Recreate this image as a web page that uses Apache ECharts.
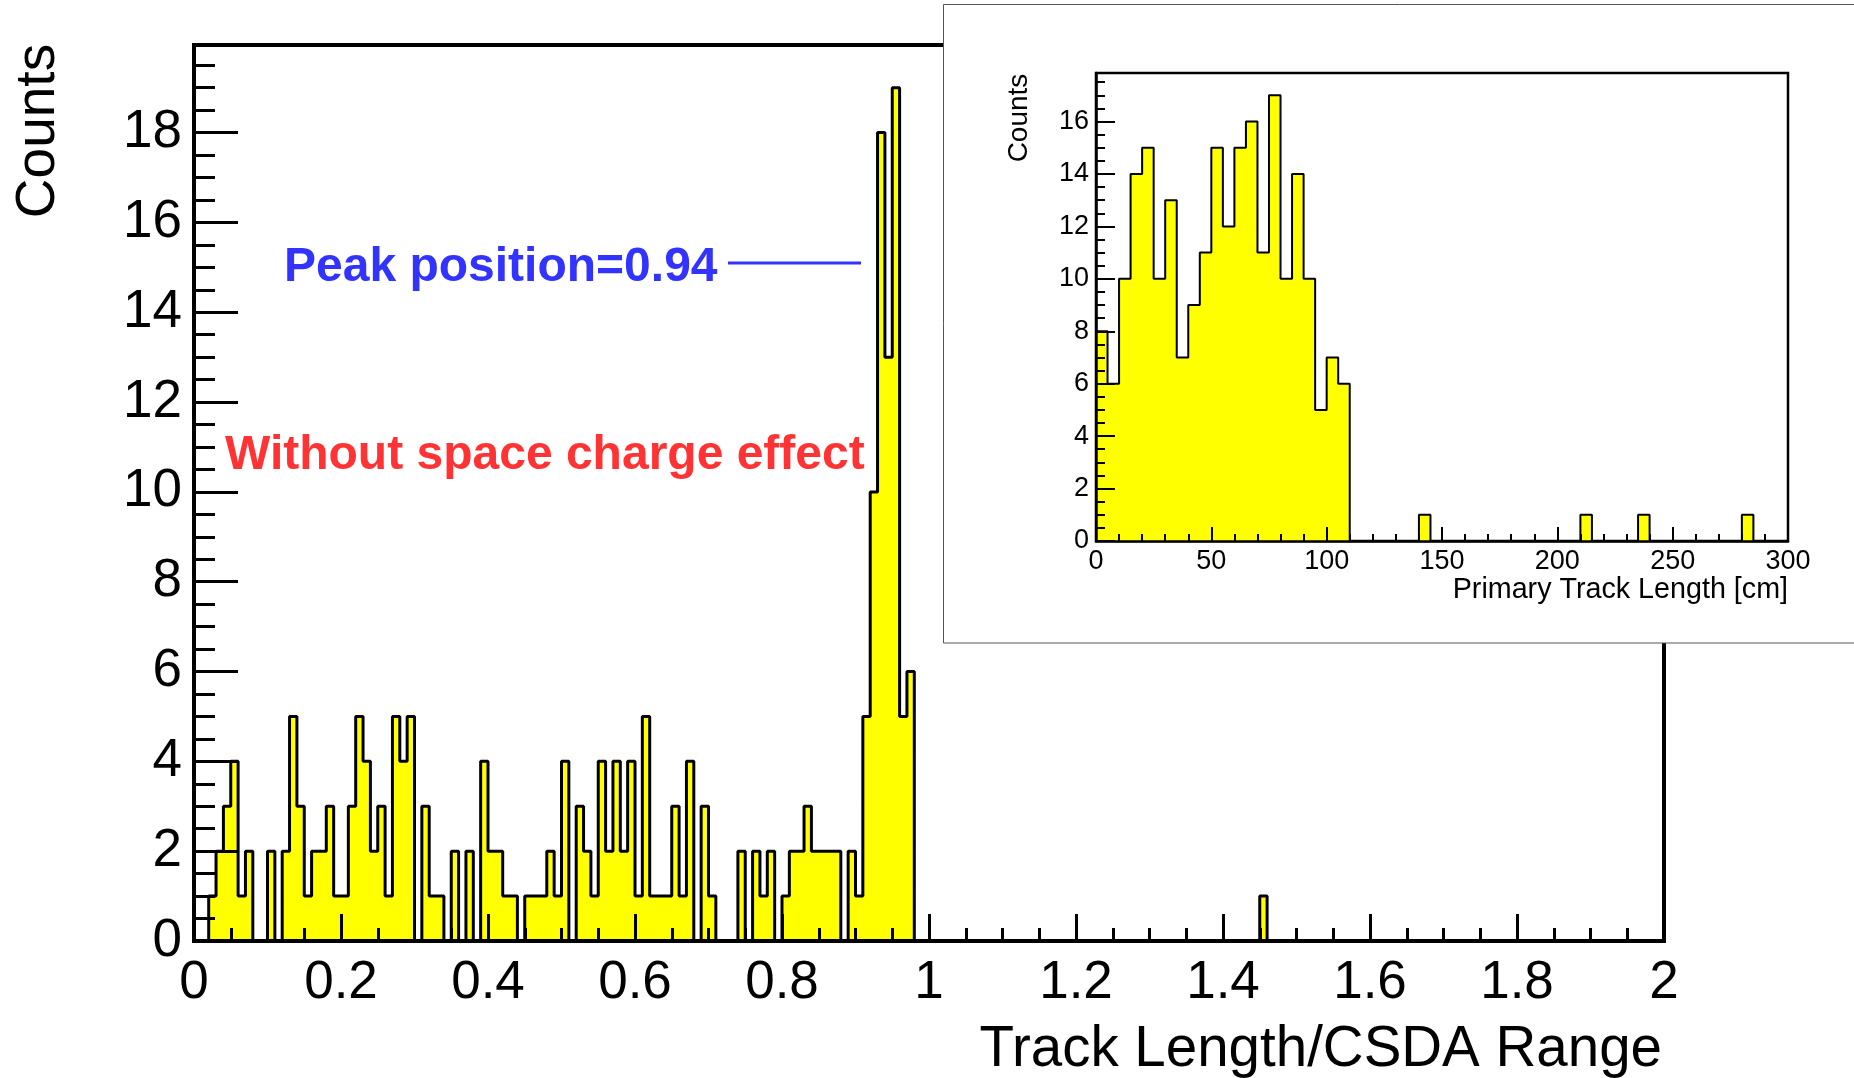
<!DOCTYPE html>
<html><head><meta charset="utf-8">
<script src="https://cdn.jsdelivr.net/npm/echarts@6/dist/echarts.min.js"></script>
<style>html,body{margin:0;padding:0;background:#fff}#c{width:1854px;height:1078px}</style>
</head><body><div id="c"></div>
<script>
// ---------- data ----------
// main histogram: Track Length / CSDA Range, 200 bins of 0.01 from 0 to 2
const mainCounts = [
  0,0,1,2,3,4,1,2,0,0,
  2,0,2,5,3,1,2,2,3,1,
  1,3,5,4,2,3,1,5,4,5,
  0,3,1,1,0,2,0,2,0,4,
  2,2,1,1,0,1,1,1,2,1,
  4,0,3,2,1,4,2,4,2,4,
  1,5,1,1,1,3,1,4,0,3,
  1,0,0,0,2,0,2,1,2,0,
  1,2,2,3,2,2,2,2,0,2,
  1,5,10,18,13,19,5,6,0,0,
  0,0,0,0,0,0,0,0,0,0,
  0,0,0,0,0,0,0,0,0,0,
  0,0,0,0,0,0,0,0,0,0,
  0,0,0,0,0,0,0,0,0,0,
  0,0,0,0,0,1,0,0,0,0,
  0,0,0,0,0,0,0,0,0,0,
  0,0,0,0,0,0,0,0,0,0,
  0,0,0,0,0,0,0,0,0,0,
  0,0,0,0,0,0,0,0,0,0,
  0,0,0,0,0,0,0,0,0,0
];
const mainBinLow = 0, mainBinWidth = 0.01;

// inset histogram: Primary Track Length [cm], 60 bins of 5 cm from 0 to 300
const insetCounts = [
  8,6,10,14,15,10,13,7,9,11,
  15,12,15,16,11,17,10,14,10,5,
  7,6,0,0,0,0,0,0,1,0,
  0,0,0,0,0,0,0,0,0,0,
  0,0,1,0,0,0,0,1,0,0,
  0,0,0,0,0,0,1,0,0,0
];
const insetBinLow = 0, insetBinWidth = 5;

const mainXTickLabels = ['0','0.2','0.4','0.6','0.8','1','1.2','1.4','1.6','1.8','2'];
const mainYTickLabels = ['0','2','4','6','8','10','12','14','16','18'];
const insetXTickLabels = ['0','50','100','150','200','250','300'];
const insetYTickLabels = ['0','2','4','6','8','10','12','14','16'];

// ---------- helpers ----------
function stepData(counts, lo, w) {
  const d = [[lo, 0]];
  counts.forEach((c, i) => d.push([lo + i * w, c]));
  d.push([lo + counts.length * w, 0]);
  return d;
}
function labelFrom(list, step) {
  return function (v) {
    const idx = Math.round(v / step);
    if (Math.abs(v - idx * step) > 1e-6) return '';
    return list[idx] !== undefined ? list[idx] : '';
  };
}
const FONT = '"Liberation Sans", Arial, Helvetica, sans-serif';

const chart = echarts.init(document.getElementById('c'), null, {renderer: 'canvas'});

const option = {
  animation: false,
  backgroundColor: '#fff',
  grid: [
    {left: 194, top: 45, width: 1470, height: 896, show: true, borderColor: '#000', borderWidth: 4, backgroundColor: 'transparent', z: 1},
    {left: 1096, top: 73, width: 692, height: 468, show: true, borderColor: '#000', borderWidth: 2.5, backgroundColor: '#fff', z: 11}
  ],
  xAxis: [
    {
      type: 'value', gridIndex: 0, min: 0, max: 2, interval: 0.2, z: 3,
      axisLine: {show: true, onZero: false, lineStyle: {color: '#000', width: 4}},
      axisTick: {show: true, inside: true, length: 27, lineStyle: {color: '#000', width: 3}},
      minorTick: {show: true, splitNumber: 4, length: 13, lineStyle: {color: '#000', width: 3}},
      splitLine: {show: false}, minorSplitLine: {show: false},
      axisLabel: {show: true, margin: 16, color: '#000', fontFamily: FONT, fontSize: 53, formatter: labelFrom(mainXTickLabels, 0.2)}
    },
    {
      type: 'value', gridIndex: 1, min: 0, max: 300, interval: 50, z: 13,
      axisLine: {show: true, onZero: false, lineStyle: {color: '#000', width: 2.5}},
      axisTick: {show: true, inside: true, length: 14, lineStyle: {color: '#000', width: 2}},
      minorTick: {show: true, splitNumber: 5, length: 7, lineStyle: {color: '#000', width: 2}},
      splitLine: {show: false}, minorSplitLine: {show: false},
      axisLabel: {show: true, margin: 7, color: '#000', fontFamily: FONT, fontSize: 27, formatter: labelFrom(insetXTickLabels, 50)}
    }
  ],
  yAxis: [
    {
      type: 'value', gridIndex: 0, min: 0, max: 19.95, interval: 2, z: 3,
      axisLine: {show: true, onZero: false, lineStyle: {color: '#000', width: 4}},
      axisTick: {show: true, inside: true, length: 44, lineStyle: {color: '#000', width: 3}},
      minorTick: {show: true, splitNumber: 4, length: 21, lineStyle: {color: '#000', width: 3}},
      splitLine: {show: false}, minorSplitLine: {show: false},
      axisLabel: {show: true, margin: 12, color: '#000', fontFamily: FONT, fontSize: 53, showMaxLabel: false, formatter: labelFrom(mainYTickLabels, 2)}
    },
    {
      type: 'value', gridIndex: 1, min: 0, max: 17.85, interval: 2, z: 13,
      axisLine: {show: true, onZero: false, lineStyle: {color: '#000', width: 2.5}},
      axisTick: {show: true, inside: true, length: 19, lineStyle: {color: '#000', width: 2}},
      minorTick: {show: true, splitNumber: 4, length: 9, lineStyle: {color: '#000', width: 2}},
      splitLine: {show: false}, minorSplitLine: {show: false},
      axisLabel: {show: true, margin: 7, color: '#000', fontFamily: FONT, fontSize: 27, showMaxLabel: false, formatter: labelFrom(insetYTickLabels, 2)}
    }
  ],
  series: [
    {
      type: 'line', xAxisIndex: 0, yAxisIndex: 0, z: 2,
      step: 'end', symbol: 'none', showSymbol: false,
      data: stepData(mainCounts, mainBinLow, mainBinWidth),
      lineStyle: {color: '#000', width: 3},
      areaStyle: {color: '#ffff00', opacity: 1},
      emphasis: {disabled: true}
    },
    {
      type: 'line', xAxisIndex: 1, yAxisIndex: 1, z: 12,
      step: 'end', symbol: 'none', showSymbol: false,
      data: stepData(insetCounts, insetBinLow, insetBinWidth),
      lineStyle: {color: '#000', width: 2},
      areaStyle: {color: '#ffff00', opacity: 1},
      emphasis: {disabled: true}
    }
  ],
  graphic: {
    elements: [
      {type: 'text', x: 39, y: 131, rotation: Math.PI / 2, z: 5,
       style: {text: 'Counts', font: '55px ' + FONT, fill: '#000', align: 'center', verticalAlign: 'middle', textAlign: 'center', textVerticalAlign: 'middle'}},
      {type: 'text', x: 1662, y: 1050, z: 5,
       style: {text: 'Track Length/CSDA Range', font: '56.5px ' + FONT, fill: '#000', align: 'right', verticalAlign: 'middle', textAlign: 'right', textVerticalAlign: 'middle'}},
      {type: 'text', x: 284, y: 268, z: 5,
       style: {text: 'Peak position=0.94', font: 'bold 48px ' + FONT, fill: '#3333ff', align: 'left', verticalAlign: 'middle', textAlign: 'left', textVerticalAlign: 'middle'}},
      {type: 'line', z: 5, shape: {x1: 728, y1: 263, x2: 861, y2: 263}, style: {stroke: '#3333ff', lineWidth: 3}},
      {type: 'text', x: 225, y: 456, z: 5,
       style: {text: 'Without space charge effect', font: 'bold 48px ' + FONT, fill: '#ff3333', align: 'left', verticalAlign: 'middle', textAlign: 'left', textVerticalAlign: 'middle'}},
      {type: 'rect', z: 10, shape: {x: 943.5, y: 4.5, width: 915, height: 638.5}, style: {fill: '#fff', stroke: '#555', lineWidth: 1}},
      {type: 'text', x: 1019, y: 118, rotation: Math.PI / 2, z: 20,
       style: {text: 'Counts', font: '28px ' + FONT, fill: '#000', align: 'center', verticalAlign: 'middle', textAlign: 'center', textVerticalAlign: 'middle'}},
      {type: 'text', x: 1788, y: 590, z: 20,
       style: {text: 'Primary Track Length [cm]', font: '28.7px ' + FONT, fill: '#000', align: 'right', verticalAlign: 'middle', textAlign: 'right', textVerticalAlign: 'middle'}}
    ]
  }
};
chart.setOption(option);
</script>
</body></html>
